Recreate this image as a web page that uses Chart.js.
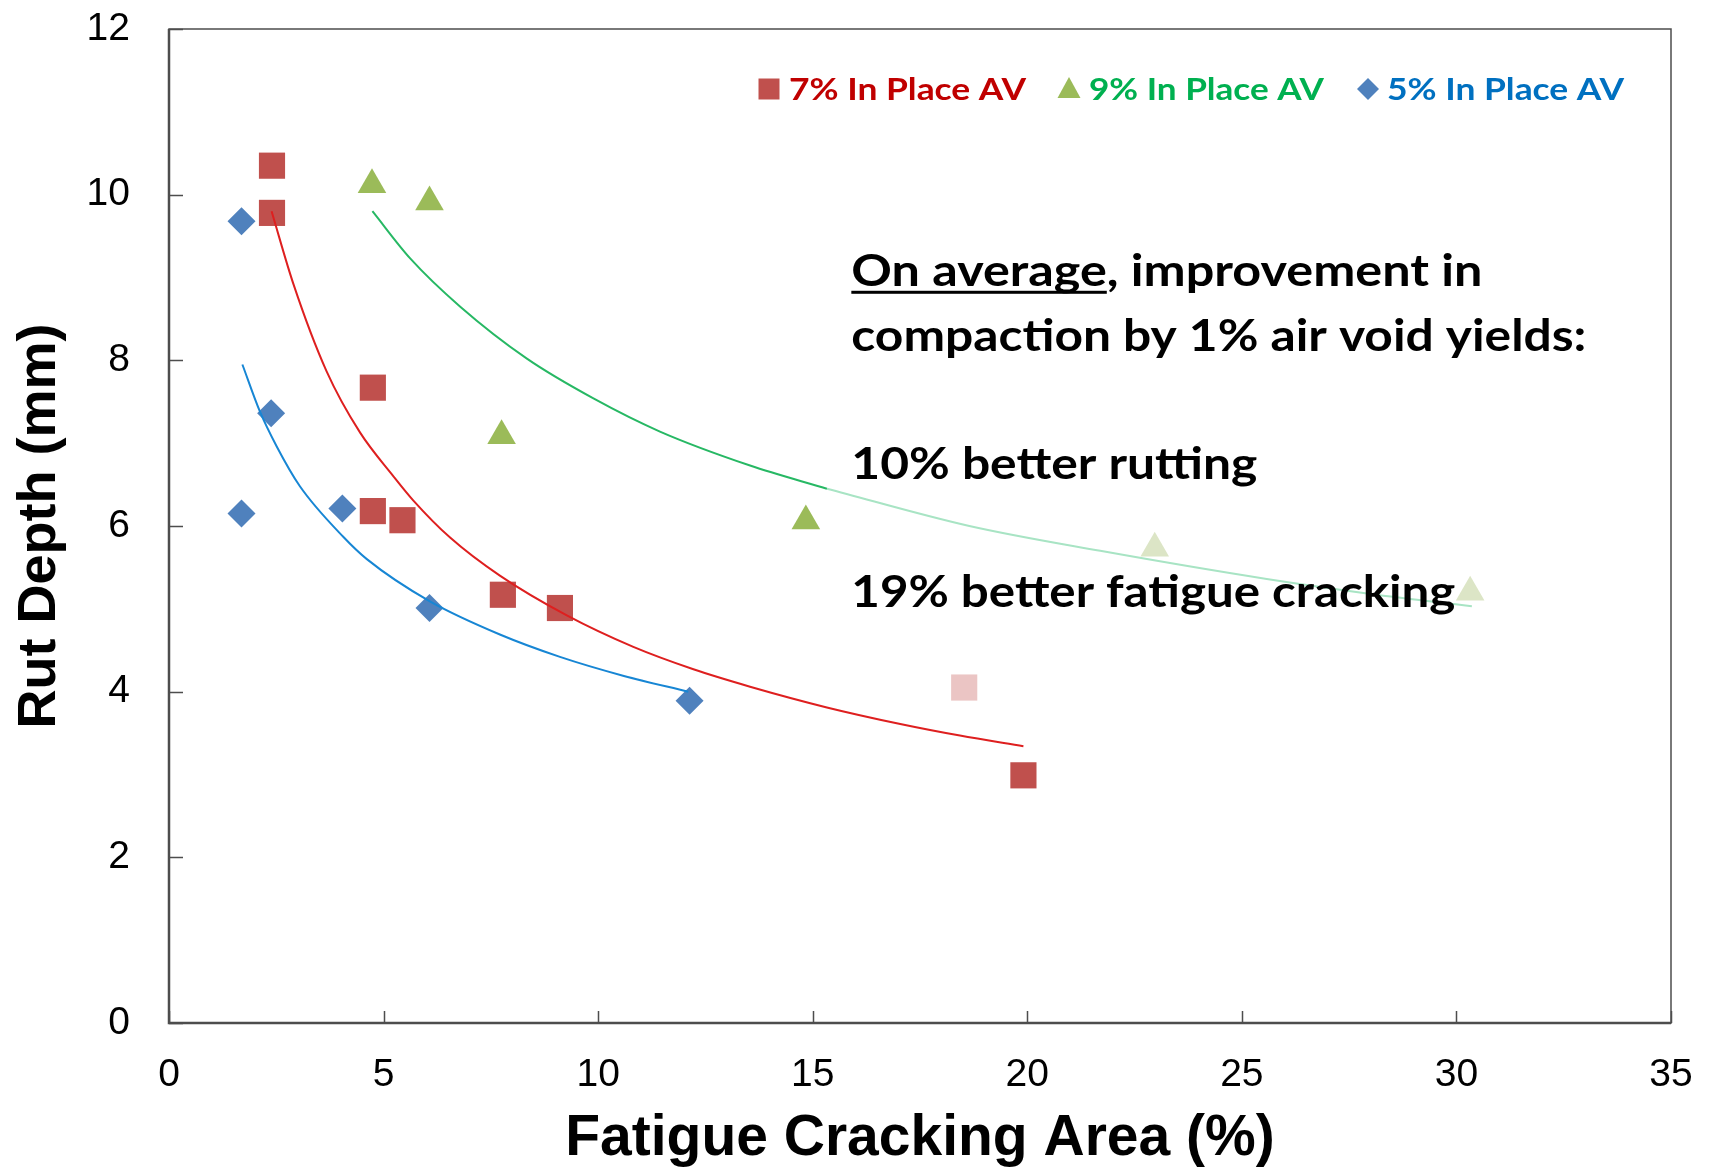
<!DOCTYPE html>
<html>
<head>
<meta charset="utf-8">
<script src="https://cdn.jsdelivr.net/npm/chart.js@4.4.1/dist/chart.umd.min.js"></script>
<style>
  html, body { margin: 0; padding: 0; background: #fff; }
  #wrap { width: 1709px; height: 1175px; }
</style>
</head>
<body>
<div id="wrap"><canvas id="rutChart" width="1709" height="1175"></canvas></div>
<script>
// measured points (fatigue cracking %, rut depth mm)
const av7X = [2.40, 2.40, 4.75, 4.75, 5.44, 7.78, 9.11, 18.53, 19.91];
const av7Y = [10.35, 9.78, 7.67, 6.18, 6.07, 5.17, 5.01, 4.05, 2.99];
const av9X = [4.73, 6.07, 7.75, 14.84, 22.97, 30.32];
const av9Y = [10.12, 9.91, 7.09, 6.06, 5.73, 5.20];
const av5X = [1.69, 2.38, 1.69, 4.04, 6.07, 12.13];
const av5Y = [9.68, 7.36, 6.15, 6.21, 5.01, 3.89];

// trend curves
const fit7X = [2.39, 2.90, 3.67, 4.45, 5.23, 5.69, 6.55, 7.71, 9.27, 10.82, 12.22, 13.54, 15.33, 17.04, 18.43, 19.91];
const fit7Y = [9.80, 8.92, 7.87, 7.13, 6.60, 6.31, 5.86, 5.40, 4.92, 4.54, 4.27, 4.06, 3.81, 3.61, 3.47, 3.34];
const fit5X = [1.71, 2.12, 2.51, 3.05, 4.06, 4.61, 6.08, 7.71, 9.11, 10.60, 12.10];
const fit5Y = [7.95, 7.38, 6.96, 6.48, 5.87, 5.60, 5.09, 4.69, 4.42, 4.19, 4.00];
const fit9aX = [4.74, 5.62, 6.78, 8.34, 9.89, 11.44, 13.54, 15.33];
const fit9aY = [9.80, 9.23, 8.65, 8.02, 7.54, 7.14, 6.73, 6.45];
const fit9bX = [15.33, 18.65, 21.70, 25.58, 28.00, 30.36];
const fit9bY = [6.45, 6.00, 5.70, 5.36, 5.18, 5.03];

const xTicks = [0, 5, 10, 15, 20, 25, 30, 35];
const yTicks = [0, 2, 4, 6, 8, 10, 12];

const seriesNames = ['7% In Place AV', '9% In Place AV', '5% In Place AV'];
const noteLines = [
    'On average, improvement in',
    'compaction by 1% air void yields:',
    '10% better rutting',
    '19% better fatigue cracking'
];

const pts = (xs, ys) => xs.map((x, i) => ({ x: x, y: ys[i] }));

// draws text squeezed to a given width (Calibri-like look)
function fitText(ctx, text, x, y, font, color, width) {
    ctx.save();
    ctx.font = font;
    ctx.fillStyle = color;
    ctx.textBaseline = 'alphabetic';
    ctx.textAlign = 'left';
    const w = ctx.measureText(text).width;
    ctx.translate(x, y);
    ctx.scale(width / w, 1);
    ctx.fillText(text, 0, 0);
    ctx.restore();
}

const framePlugin = {
    id: 'frame',
    beforeDatasetsDraw(chart) {
        const { ctx, chartArea: a, scales: { x, y } } = chart;
        ctx.save();
        ctx.strokeStyle = '#4d4d4d';
        ctx.lineWidth = 1.5;
        ctx.strokeRect(a.left, a.top, a.right - a.left, a.bottom - a.top);
        ctx.lineWidth = 2.5;
        ctx.beginPath();
        ctx.moveTo(a.left, a.top);
        ctx.lineTo(a.left, a.bottom);
        ctx.lineTo(a.right, a.bottom);
        ctx.stroke();
        ctx.lineWidth = 1.5;
        ctx.beginPath();
        yTicks.forEach(v => {
            const py = Math.round(y.getPixelForValue(v)) + 0.5;
            ctx.moveTo(a.left, py);
            ctx.lineTo(a.left + 14, py);
        });
        xTicks.forEach(v => {
            const px = Math.round(x.getPixelForValue(v)) + 0.5;
            ctx.moveTo(px, a.bottom);
            ctx.lineTo(px, a.bottom - 12);
        });
        ctx.stroke();
        ctx.restore();
    },
    afterDatasetsDraw(chart) {
        const { ctx, chartArea: a, scales: { x, y } } = chart;
        const noteFont = 'bold 44px Lato';

        // annotation block
        const left = x.getPixelForValue(15.9);
        const bases = [8.90, 8.115, 6.57, 5.02].map(v => y.getPixelForValue(v));
        const widths = [631, 735, 406, 604];
        noteLines.forEach((t, i) => {
            fitText(ctx, t, left, bases[i], noteFont, '#000', widths[i]);
        });
        // underline under "On average"
        ctx.save();
        ctx.font = noteFont;
        const full = ctx.measureText(noteLines[0]).width;
        const part = ctx.measureText('On average').width;
        ctx.fillStyle = '#000';
        ctx.fillRect(left, bases[0] + 5, part * widths[0] / full, 3);
        ctx.restore();

        // legend inside plot, top right
        const legY = a.top + 60;
        const legFont = 'bold 31px Lato';
        const items = [
            { style: 'rect', fill: '#c0504d', text: '#c00000', mx: 769, tx: 789, tw: 237 },
            { style: 'triangle', fill: '#9bbb59', text: '#00b050', mx: 1069, tx: 1089, tw: 235 },
            { style: 'rectRot', fill: '#4f81bd', text: '#0070c0', mx: 1368, tx: 1387, tw: 237 }
        ];
        items.forEach((it, i) => {
            ctx.save();
            ctx.fillStyle = it.fill;
            ctx.beginPath();
            if (it.style === 'rect') {
                ctx.rect(it.mx - 10.5, legY - 10.5, 21, 21);
            } else if (it.style === 'triangle') {
                ctx.moveTo(it.mx, legY - 12);
                ctx.lineTo(it.mx + 11.5, legY + 9);
                ctx.lineTo(it.mx - 11.5, legY + 9);
                ctx.closePath();
            } else {
                ctx.moveTo(it.mx, legY - 11);
                ctx.lineTo(it.mx + 11, legY);
                ctx.lineTo(it.mx, legY + 11);
                ctx.lineTo(it.mx - 11, legY);
                ctx.closePath();
            }
            ctx.fill();
            ctx.restore();
            fitText(ctx, seriesNames[i], it.tx, legY + 11, legFont, it.text, it.tw);
        });
    }
};

const ctx = document.getElementById('rutChart').getContext('2d');
new Chart(ctx, {
    type: 'scatter',
    data: {
        datasets: [
            { label: 'fit7', data: pts(fit7X, fit7Y), showLine: true, borderColor: '#de1f1f', borderWidth: 2, pointRadius: 0, cubicInterpolationMode: 'monotone', order: 0 },
            { label: 'fit9a', data: pts(fit9aX, fit9aY), showLine: true, borderColor: '#27b864', borderWidth: 2, pointRadius: 0, cubicInterpolationMode: 'monotone', order: 0 },
            { label: 'fit9b', data: pts(fit9bX, fit9bY), showLine: true, borderColor: '#a8e4c4', borderWidth: 2, pointRadius: 0, cubicInterpolationMode: 'monotone', order: 0 },
            { label: 'fit5', data: pts(fit5X, fit5Y), showLine: true, borderColor: '#1786d4', borderWidth: 2, pointRadius: 0, cubicInterpolationMode: 'monotone', order: 0 },
            {
                label: seriesNames[0], data: pts(av7X, av7Y), pointStyle: 'rect', pointRadius: 18.5,
                backgroundColor: ['#c0504d', '#c0504d', '#c0504d', '#c0504d', '#c0504d', '#c0504d', '#c0504d', '#ebc5c4', '#c0504d'],
                borderWidth: 0, order: 1
            },
            {
                label: seriesNames[1], data: pts(av9X, av9Y), pointStyle: 'triangle', pointRadius: 16.5,
                backgroundColor: ['#9bbb59', '#9bbb59', '#9bbb59', '#9bbb59', '#dce5c6', '#dce5c6'],
                borderWidth: 0, order: 1
            },
            {
                label: seriesNames[2], data: pts(av5X, av5Y), pointStyle: 'rectRot', pointRadius: 14,
                backgroundColor: '#4f81bd', borderWidth: 0, order: 1
            }
        ]
    },
    options: {
        responsive: false,
        animation: false,
        layout: { padding: { top: 29, right: 38, left: 0, bottom: 0 } },
        plugins: { legend: { display: false }, tooltip: { enabled: false } },
        scales: {
            x: {
                type: 'linear', min: 0, max: 35,
                afterBuildTicks: s => { s.ticks = xTicks.map(v => ({ value: v })); },
                afterFit: s => { s.height = 152; s.paddingLeft = 0; s.paddingRight = 0; },
                grid: { display: false }, border: { display: false },
                ticks: { color: '#000', padding: 21, font: { family: 'Liberation Sans', size: 39 } },
                title: { display: true, text: 'Fatigue Cracking Area (%)', color: '#000', padding: { top: 0, bottom: 7 },
                         font: { family: 'Liberation Sans', size: 57, weight: 'bold', lineHeight: 1 } }
            },
            y: {
                type: 'linear', min: 0, max: 12,
                afterBuildTicks: s => { s.ticks = yTicks.map(v => ({ value: v })); },
                afterFit: s => { s.width = 169; s.paddingTop = 0; s.paddingBottom = 0; },
                grid: { display: false }, border: { display: false },
                ticks: { color: '#000', padding: 31, font: { family: 'Liberation Sans', size: 39 } },
                title: { display: true, text: 'Rut Depth (mm)', color: '#000', padding: { top: 13, bottom: 0 },
                         font: { family: 'Liberation Sans', size: 54, weight: 'bold', lineHeight: 1 } }
            }
        }
    },
    plugins: [framePlugin]
});
</script>
</body>
</html>
